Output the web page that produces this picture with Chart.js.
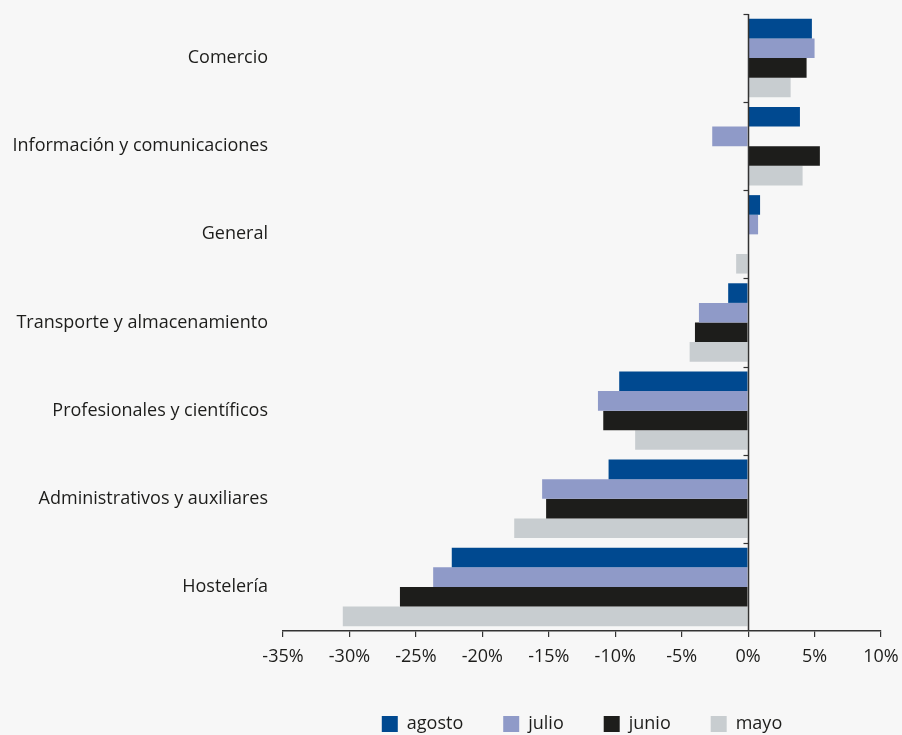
<!DOCTYPE html>
<html>
<head>
<meta charset="utf-8">
<script src="https://cdn.jsdelivr.net/npm/chart.js@4/dist/chart.umd.min.js"></script>
<style>
  html,body{margin:0;padding:0;background:#f7f7f7;}
  #wrap{width:902px;height:735px;position:relative;}
</style>
</head>
<body>
<div id="wrap"><canvas id="c"></canvas></div>
<script>
// ── DATA ──────────────────────────────────────────────────────────────────────
const sectores = ['Comercio','Información y comunicaciones','General','Transporte y almacenamiento',
                  'Profesionales y científicos','Administrativos y auxiliares','Hostelería'];
const agosto = [4.8, 3.9, 0.9, -1.5, -9.7, -10.5, -22.3];
const julio  = [5.0, -2.7, 0.75, -3.7, -11.3, -15.5, -23.7];
const junio  = [4.4, 5.4, 0.0, -4.0, -10.9, -15.2, -26.2];
const mayo   = [3.2, 4.1, -0.9, -4.4, -8.5, -17.6, -30.5];
const xTicks = [-35,-30,-25,-20,-15,-10,-5,0,5,10];

const FONT = "'Open Sans', 'Noto Sans', sans-serif";
const TXT = '#1d1d1b';

// zero line + category boundary ticks on it
const zeroAxis = {
  id:'zeroAxis',
  afterDatasetsDraw(chart){
    const {ctx, chartArea:a, scales:{x,y}} = chart;
    const x0 = Math.round(x.getPixelForValue(0)) + 0.5;
    ctx.save();
    ctx.strokeStyle = '#333'; ctx.lineWidth = 1.5;
    ctx.beginPath(); ctx.moveTo(x0, a.top); ctx.lineTo(x0, a.bottom); ctx.stroke();
    const step = (a.bottom - a.top) / sectores.length;
    ctx.lineWidth = 1.2;
    for(let i=0;i<sectores.length;i++){
      const yy = Math.round(a.top + i*step) + 0.5;
      ctx.beginPath(); ctx.moveTo(x0-5, yy); ctx.lineTo(x0, yy); ctx.stroke();
    }
    ctx.restore();
  }
};

const ds = (label, data, color) => ({label, data, backgroundColor:color, borderWidth:0,
  categoryPercentage:0.89, barPercentage:1.0});

new Chart(document.getElementById('c'), {
  type:'bar',
  data:{labels:sectores, datasets:[
    ds('agosto', agosto, '#004990'),
    ds('julio', julio, '#8f9ac8'),
    ds('junio', junio, '#1d1d1b'),
    ds('mayo', mayo, '#c8cdd0')
  ]},
  options:{
    indexAxis:'y', responsive:true, maintainAspectRatio:false, animation:false,
    layout:{padding:{top:14, right:21, left:0, bottom:-8}},
    plugins:{
      tooltip:{enabled:false},
      legend:{position:'bottom', fullSize:false,
        labels:{color:TXT, font:{family:FONT, size:18}, boxWidth:16, boxHeight:16, padding:40}}
    },
    scales:{
      x:{min:-35, max:10,
        afterBuildTicks:s=>{ s.ticks = xTicks.map(v=>({value:v})); },
        ticks:{color:TXT, font:{family:FONT, size:18}, padding:9, callback:v=>v+'%', maxRotation:0, autoSkip:false},
        grid:{drawOnChartArea:false, drawTicks:true, tickLength:6, color:'#333', lineWidth:1.2},
        border:{display:true, color:'#333', width:1.5},
        afterFit:s=>{ s.height = 44; s.paddingLeft = 0; s.paddingRight = 0; }
      },
      y:{
        ticks:{color:TXT, font:{family:FONT, size:18}, padding:7},
        grid:{display:false}, border:{display:false},
        afterFit:s=>{ s.width = 283; s.paddingTop = 0; s.paddingBottom = 0; }
      }
    }
  },
  plugins:[zeroAxis]
});
</script>
</body>
</html>
